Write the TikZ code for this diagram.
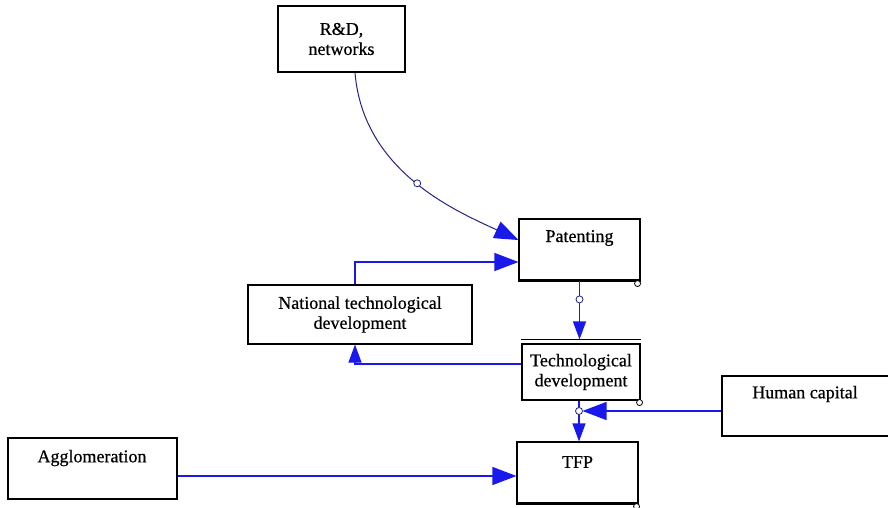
\documentclass[tikz,border=0pt]{standalone}
\usepackage{fontspec}
\setmainfont{Liberation Serif}
\newfontfamily\lblfont{Liberation Serif}[FakeBold=0.6]
\usetikzlibrary{arrows.meta}
\definecolor{linkblue}{RGB}{25,25,235}
\definecolor{curveblue}{RGB}{35,35,130}

\begin{document}
\begin{tikzpicture}[x=1pt,y=-1pt,
	box/.style={draw, line width=1.1pt, inner sep=0pt, align=center, font=\lblfont\fontsize{18}{20}\selectfont},
	lbl/.style={inner sep=0pt, font=\lblfont\fontsize{18}{20}\selectfont},
	flow/.style={linkblue, line width=1.1pt, -{Triangle[length=24pt,width=18pt]}},
	flowsm/.style={linkblue, line width=1.1pt, -{Triangle[length=18pt,width=13pt]}},
	dot/.style={circle, draw, fill=white, line width=0.8pt, inner sep=0pt, minimum size=7pt},
	cdot/.style={dot, minimum size=6pt}]
	\useasboundingbox (0,0) rectangle (888,508);
	% boxes
	\node[box, minimum width=127pt, minimum height=66pt] (rd) at (341.5,39) {R\&D,\\networks};
	\node[box, minimum width=121pt, minimum height=61pt] (pat) at (579.5,249.5) {};
	\node[lbl] (patt) at ([yshift=11.5pt]pat.center) {Patenting};
	\node[box, minimum width=224pt, minimum height=59pt] (nat) at (360,314.5) {National technological\\development};
	\node[box, minimum width=118pt, minimum height=56pt] (td) at (581,372) {Technological\\development};
	\node[box, minimum width=170pt, minimum height=60pt] (hc) at (807,406) {};
	\node[lbl] (hct) at (805,394) {Human capital};
	\node[box, minimum width=169pt, minimum height=61pt] (ag) at (92.5,468.5) {};
	\node[lbl] (agt) at (92,458) {Agglomeration};
	\node[box, minimum width=121pt, minimum height=61pt] (tfp) at (577.5,472.5) {};
	\node[lbl] (tfpt) at (577.5,462) {TFP};
	% shadow edges
	\draw[line width=2.5pt] (pat.south west) -- (pat.south east);
	\draw[line width=2.5pt] (tfp.south west) -- (tfp.south east);
	\draw[line width=1pt] ([yshift=4pt]td.north west) -- ([yshift=4pt]td.north east);
	\coordinate (tdtop) at ([yshift=4pt]td.north);
	\coordinate (jn) at (579,411);
	\coordinate (agout) at ([yshift=-7.5pt]ag.east);
	% links
	\draw[curveblue, line width=1pt, -{Triangle[length=24pt,width=18pt,color=linkblue]}]
		([xshift=13.5pt]rd.south) .. controls +(8,100) and +(-60,-28) .. ([yshift=9.5pt]pat.west)
		node[pos=0.5, dot, draw=curveblue] (rdp) {};
	\draw[flow] ([xshift=-5pt]nat.north) |- ([yshift=-12.5pt]pat.west);
	\draw[flowsm] (pat.south) -- (pat.south |- tdtop) node[pos=0.32, dot, draw=curveblue] (patp) {};
	\draw[flowsm] ([yshift=8pt]td.west) -| ([xshift=-5pt]nat.south);
	\draw[flowsm] (td.south -| jn) -- (jn |- tfp.north);
	\draw[flow, shorten >=3.5pt] (hc.west |- jn) -- (jn);
	\draw[flow] (agout) -- (agout -| tfp.west);
	\node[dot, draw=curveblue] (jnp) at (jn) {};
	% corner marks
	\node[cdot] (patc) at ([xshift=-3pt,yshift=-3pt]pat.south east) {};
	\node[cdot] (tdc) at ([xshift=-1pt,yshift=-2pt]td.south east) {};
	\node[cdot] (tfpc) at ([xshift=-2pt,yshift=-3pt]tfp.south east) {};
\end{tikzpicture}
\end{document}
